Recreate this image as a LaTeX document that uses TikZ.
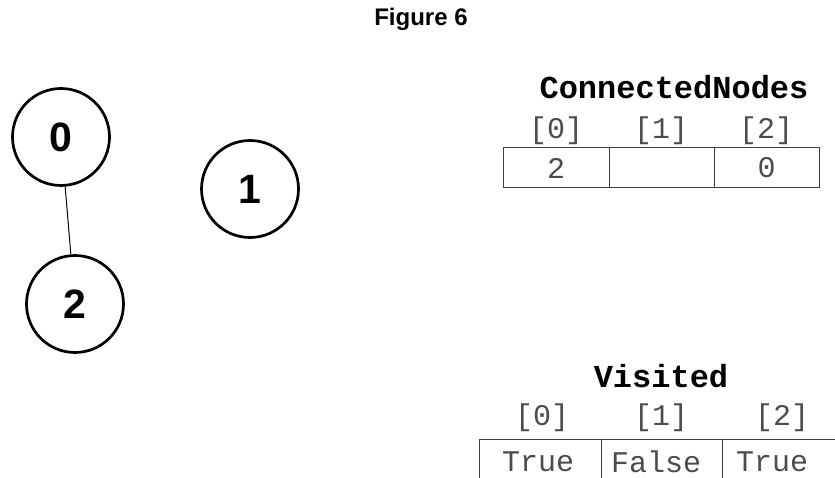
\documentclass[tikz,border=0pt]{standalone}
\usepackage{fontspec}
\setmainfont{Liberation Sans}
\setmonofont{Liberation Mono}
\tikzset{
  vertex/.style={draw, circle, line width=2.7pt, minimum size=97pt, inner sep=0pt, font=\fontsize{41}{43}\selectfont\bfseries},
  cell/.style={draw=black!75, line width=1pt, inner sep=0pt, font=\ttfamily\fontsize{30}{32}\selectfont, text=black!70},
  idx/.style={inner sep=0pt, font=\ttfamily\fontsize{30}{32}\selectfont, text=black!70},
  arrname/.style={inner sep=0pt, font=\ttfamily\bfseries\fontsize{32}{34}\selectfont}
}
\begin{document}
\begin{tikzpicture}[x=1pt,y=-1pt]
\useasboundingbox (0,0) rectangle (835,478);
\clip (0,0) rectangle (835,478);

    \node[font=\bfseries\fontsize{24}{26}\selectfont, inner sep=0pt] (title) at (421,19) {Figure 6};

    % the graph
    \node[vertex] (n0) at (61,137) {0};
    \node[vertex] (n1) at (250,189) {1};
    \node[vertex] (n2) at (75,304) {2};
    \draw[line width=1pt] (n0) -- (n2);

    % ConnectedNodes
    \begin{scope}[]
    \node[arrname] (cname) at (674,87) {ConnectedNodes};
    \node[idx] (ci0) at (556,131) {[0]};
    \node[idx] (ci1) at (661,131) {[1]};
    \node[idx] (ci2) at (766,131) {[2]};
    \node[cell, minimum width=106pt, minimum height=40pt] (c0) at (556,168) {2};
    \node[cell, minimum width=105pt, minimum height=40pt] (c1) at (661.5,168) {};
    \node[cell, minimum width=105pt, minimum height=40pt] (c2) at (766.5,168) {0};
    \end{scope}

    % Visited (the bottom runs off the page)
    \begin{scope}[]
    \node[arrname] (vname) at (661,376) {Visited};
    \node[idx] (vi0) at (542,418) {[0]};
    \node[idx] (vi1) at (661,418) {[1]};
    \node[idx] (vi2) at (782,418) {[2]};
    \draw[draw=black!75, line width=1pt] (479,480) -- (479,439) -- (844,439);
    \draw[draw=black!75, line width=1pt] (601,439) -- (601,480);
    \draw[draw=black!75, line width=1pt] (722,439) -- (722,480);
    \node[idx] (vt0) at (538,462) {True};
    \node[idx] (vt1) at (656,462) {False};
    \node[idx] (vt2) at (772,462) {True};
    \end{scope}

\end{tikzpicture}
\end{document}
